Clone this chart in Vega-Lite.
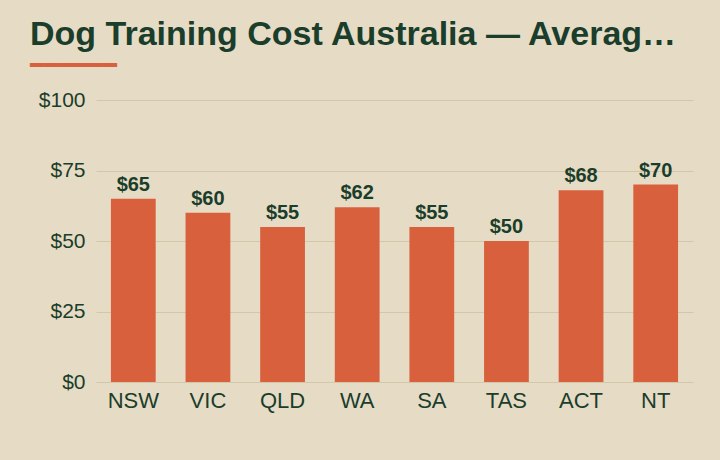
{
  "$schema": "https://vega.github.io/schema/vega-lite/v6.json",
  "width": 597,
  "height": 282,
  "autosize": {"type": "none"},
  "padding": {"left": 96, "top": 100, "right": 27, "bottom": 78},
  "background": "#E6DCC5",
  "title": {
    "text": "Dog Training Cost Australia — Average Cost per Session by State",
    "subtitle": "━━━━━━",
    "anchor": "start",
    "frame": "group",
    "dx": -66,
    "dy": 7,
    "limit": 658,
    "font": "Liberation Sans",
    "fontSize": 34,
    "fontWeight": "bold",
    "color": "#1B3D2B",
    "subtitleFont": "DejaVu Sans",
    "subtitleFontSize": 24,
    "subtitleColor": "#D9603D",
    "subtitlePadding": 2,
    "offset": 18
  },
  "data": {
    "values": [
      {"state": "NSW", "cost": 65},
      {"state": "VIC", "cost": 60},
      {"state": "QLD", "cost": 55},
      {"state": "WA", "cost": 62},
      {"state": "SA", "cost": 55},
      {"state": "TAS", "cost": 50},
      {"state": "ACT", "cost": 68},
      {"state": "NT", "cost": 70}
    ]
  },
  "encoding": {
    "x": {
      "field": "state",
      "type": "nominal",
      "sort": null,
      "title": null,
      "scale": {"paddingInner": 0.4, "paddingOuter": 0.2},
      "axis": {
        "labelAngle": 0,
        "labelFont": "Liberation Sans",
        "labelFontSize": 22,
        "labelColor": "#1B3D2B",
        "labelPadding": 8,
        "ticks": false,
        "domain": false
      }
    },
    "y": {
      "field": "cost",
      "type": "quantitative",
      "title": null,
      "scale": {"domain": [0, 100]},
      "axis": {
        "values": [0, 25, 50, 75, 100],
        "labelExpr": "'$' + datum.value",
        "labelFont": "Liberation Sans",
        "labelFontSize": 21,
        "labelColor": "#1B3D2B",
        "labelPadding": 11,
        "ticks": false,
        "domain": false,
        "gridColor": "#D3C6A9",
        "gridWidth": 1
      }
    }
  },
  "layer": [
    {"mark": {"type": "bar", "color": "#D9603D"}},
    {
      "mark": {
        "type": "text",
        "baseline": "alphabetic",
        "dy": -8,
        "font": "Liberation Sans",
        "fontSize": 20,
        "fontWeight": "bold",
        "color": "#1B3D2B"
      },
      "encoding": {"text": {"field": "cost", "type": "quantitative", "format": "$.0f"}}
    }
  ],
  "config": {"view": {"stroke": null}}
}
